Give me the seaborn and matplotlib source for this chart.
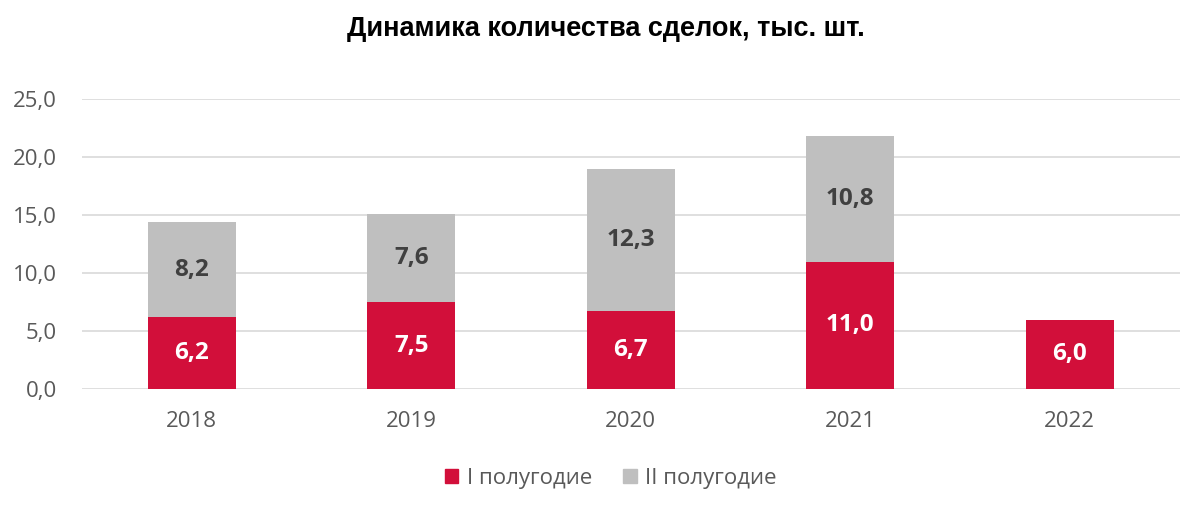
import matplotlib
matplotlib.use("Agg")
import matplotlib.pyplot as plt
import numpy as np
import pandas as pd
import seaborn as sns
from matplotlib.patches import Patch

years = ["2018", "2019", "2020", "2021", "2022"]
first_half = [6.2, 7.5, 6.7, 11.0, 6.0]
second_half = [8.2, 7.6, 12.3, 10.8, 0.0]
y_ticks = [0, 5, 10, 15, 20, 25]

RED = "#D20F3A"
GREY = "#BFBFBF"

sns.set_theme(style="white")
plt.rcParams["font.family"] = ["Open Sans", "DejaVu Sans"]

df = pd.DataFrame({"year": years, "h1": first_half, "h2": second_half})
df["total"] = df["h1"] + df["h2"]

fig = plt.figure(figsize=(12, 5.14), dpi=100)
ax = fig.add_axes([0.0683, 0.243, 0.9147, 0.564])

sns.barplot(data=df, x="year", y="total", color=GREY, width=0.4,
            saturation=1, ax=ax, zorder=3, linewidth=0)
sns.barplot(data=df, x="year", y="h1", color=RED, width=0.4,
            saturation=1, ax=ax, zorder=4, linewidth=0)

def fmt(v):
    return f"{v:.1f}".replace(".", ",")

for i, row in df.iterrows():
    ax.text(i, row["h1"] / 2, fmt(row["h1"]), ha="center", va="center",
            color="white", fontsize=17.5, fontweight="bold", zorder=5)
    if row["h2"] > 0:
        ax.text(i, row["h1"] + row["h2"] / 2, fmt(row["h2"]), ha="center",
                va="center", color="#404040", fontsize=17.5, fontweight="bold", zorder=5)

ax.set_ylim(0, 25)
ax.set_xlim(-0.5, 4.5)
ax.set_yticks(y_ticks)
ax.set_yticklabels([fmt(t) for t in y_ticks])
ax.yaxis.grid(True, color="#D9D9D9", linewidth=1.2, zorder=0)
ax.set_axisbelow(True)
for s in ax.spines.values():
    s.set_visible(False)
ax.set_xlabel("")
ax.set_ylabel("")
ax.tick_params(axis="both", length=0, labelsize=16, colors="#595959")
ax.tick_params(axis="y", pad=18)
ax.tick_params(axis="x", pad=16)

fig.suptitle("Динамика количества сделок, тыс. шт.", x=0.505, y=0.968,
             fontsize=19.5, fontweight="bold", family=["Liberation Sans", "DejaVu Sans"],
             color="black")

handles = [Patch(color=RED, label="I полугодие"), Patch(color=GREY, label="II полугодие")]
fig.legend(handles=handles, loc="center", bbox_to_anchor=(0.509, 0.07), ncol=2,
           frameon=False, fontsize=16, handlelength=0.6, handleheight=0.6,
           handletextpad=0.4, columnspacing=1.4, labelcolor="#595959")

fig.savefig("out.png", dpi=100)
